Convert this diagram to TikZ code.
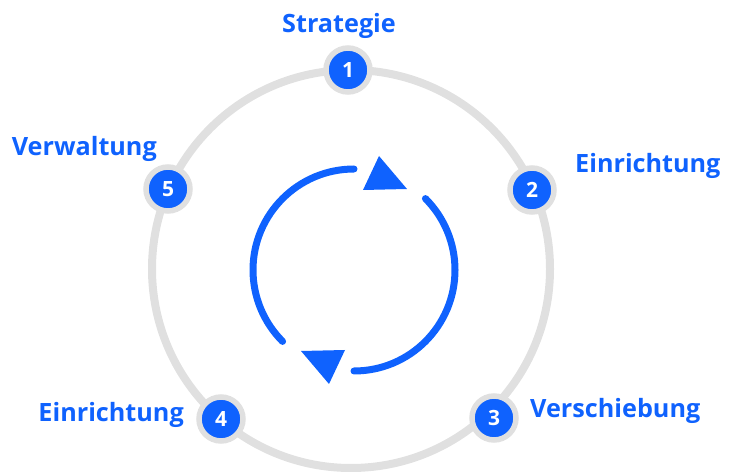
\documentclass[tikz,border=0pt]{standalone}
\usepackage{fontspec}
\setmainfont{Open Sans}
\usepackage{tikz}
\usetikzlibrary{positioning}
\definecolor{cue}{HTML}{0F62FE}
\definecolor{rim}{HTML}{E0E0E0}

\begin{document}
\begin{tikzpicture}[x=1pt, y=1pt]
  \tikzset{
    rim/.style={draw=rim, line width=8pt},
    dot/.style={circle, fill=cue, draw=rim, line width=5.5pt, minimum size=44pt,
      inner sep=0pt, text=white, font=\fontsize{21}{21}\selectfont\bfseries},
    lbl/.style={inner sep=0pt, text=cue, font=\fontsize{25.2}{28}\selectfont\bfseries},
    turn/.style={draw=cue, line width=7pt, line cap=round}}

  \useasboundingbox (0,0) rectangle (733,471);

  % --- the loop and its five stops
  \coordinate (c) at (351,202);
  \draw[rim] (c) circle[radius=199];

  \node[dot] (n1) at (348,401) {1};
  \node[dot] (n2) at (532,281) {2};
  \node[dot] (n3) at (494,53)  {3};
  \node[dot] (n4) at (221,52)  {4};
  \node[dot] (n5) at (168,282) {5};

  \node[lbl] (l1) at (339,445) {Strategie};
  \node[lbl, anchor=west] (l2) at (575,305) {Einrichtung};
  \node[lbl, anchor=west] (l3) at (530,60.5) {Verschiebung};
  \node[lbl, anchor=east] (l4) at (184,56.5) {Einrichtung};
  \node[lbl, anchor=east] (l5) at (157,322) {Verwaltung};

  % --- turning arrows in the middle
  \coordinate (hub) at (354,201);
  \draw[turn] ([shift={(90:101)}]hub) arc[start angle=90, end angle=225, radius=101];
  \draw[turn] ([shift={(-90:101)}]hub) arc[start angle=-90, end angle=45, radius=101];
  \fill[cue, shift={(hub)}] (25,114) -- (9,80) -- (53,81) -- cycle;
  \fill[cue, shift={(hub)}] (-25,-114) -- (-9,-80) -- (-53,-81) -- cycle;
\end{tikzpicture}
\end{document}
